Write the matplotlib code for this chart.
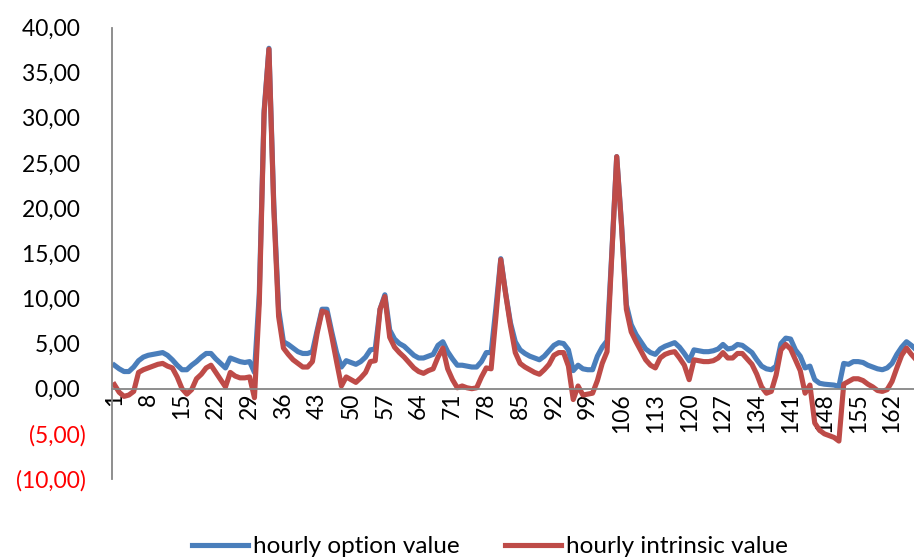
import matplotlib
matplotlib.use("Agg")
import matplotlib.pyplot as plt
from matplotlib.ticker import FixedLocator, FuncFormatter

plt.rcParams['font.family'] = ['Lato', 'DejaVu Sans']

# hourly values for hours 1..167
option_value = [
    2.6, 2.2, 1.9, 1.9, 2.4, 3.1, 3.5, 3.7, 3.8, 3.9,
    4.0, 3.7, 3.2, 2.6, 2.1, 2.1, 2.6, 3.0, 3.5, 3.9,
    3.9, 3.3, 2.8, 2.3, 3.4, 3.2, 3.0, 2.9, 3.0, 1.8,
    10.5, 30.8, 37.7, 20.5, 8.8, 5.2, 4.9, 4.5, 4.1, 3.9,
    3.9, 4.1, 6.5, 8.8, 8.8, 6.3, 4.0, 2.4, 3.1, 2.9,
    2.7, 3.0, 3.5, 4.3, 4.4, 8.8, 10.4, 6.5, 5.5, 5.0,
    4.7, 4.2, 3.7, 3.4, 3.4, 3.6, 3.8, 4.8, 5.2, 4.1,
    3.3, 2.6, 2.6, 2.5, 2.4, 2.4, 3.0, 4.0, 4.0, 9.0,
    14.4, 10.6, 7.3, 5.2, 4.3, 3.9, 3.6, 3.4, 3.2, 3.6,
    4.2, 4.8, 5.1, 5.0, 4.3, 2.0, 2.6, 2.2, 2.1, 2.1,
    3.6, 4.6, 5.3, 15.2, 25.7, 18.2, 9.3, 7.1, 6.0, 5.2,
    4.4, 4.0, 3.8, 4.4, 4.7, 4.9, 5.1, 4.6, 3.9, 3.1,
    4.3, 4.2, 4.1, 4.1, 4.2, 4.4, 4.9, 4.4, 4.5, 4.9,
    4.8, 4.4, 4.0, 3.2, 2.5, 2.2, 2.1, 2.5, 5.0, 5.6,
    5.5, 4.3, 3.6, 2.3, 2.5, 1.0, 0.6, 0.5, 0.45, 0.4,
    0.25, 2.8, 2.7, 3.0, 3.0, 2.9, 2.6, 2.4, 2.2, 2.1,
    2.3, 2.8, 3.8, 4.6, 5.2, 4.8, 4.3,
]
intrinsic_value = [
    0.45, -0.4, -0.85, -0.7, -0.3, 1.8, 2.1, 2.3, 2.5, 2.7,
    2.8, 2.5, 2.3, 1.3, 0.0, -0.6, -0.1, 1.1, 1.6, 2.3,
    2.6, 1.8, 1.0, 0.2, 1.8, 1.4, 1.2, 1.2, 1.3, -1.0,
    9.5, 30.5, 37.6, 20.0, 8.0, 4.5, 3.8, 3.2, 2.8, 2.4,
    2.4, 3.0, 6.2, 8.6, 8.4, 5.8, 3.0, 0.3, 1.3, 1.0,
    0.7, 1.2, 1.8, 3.0, 3.1, 8.8, 10.2, 5.7, 4.6, 4.0,
    3.5, 2.9, 2.3, 1.9, 1.7, 2.0, 2.2, 3.5, 4.5, 2.2,
    1.0, 0.1, 0.3, 0.1, 0.0, 0.1, 1.3, 2.3, 2.2, 8.0,
    14.3, 10.5, 7.0, 4.0, 2.8, 2.4, 2.1, 1.8, 1.6, 2.1,
    2.7, 3.7, 4.0, 4.0, 2.5, -1.2, 0.3, -0.7, -0.6, -0.5,
    0.9, 2.8, 4.1, 15.0, 25.7, 18.0, 8.8, 6.3, 5.2, 4.2,
    3.2, 2.6, 2.3, 3.4, 3.8, 4.0, 4.1, 3.4, 2.6, 1.0,
    3.2, 3.1, 3.0, 3.0, 3.1, 3.4, 4.0, 3.4, 3.4, 3.9,
    3.9, 3.3, 2.7, 1.6, 0.2, -0.5, -0.3, 1.5, 4.3, 4.9,
    4.4, 3.2, 2.0, -0.5, 0.4, -3.8, -4.6, -5.0, -5.2, -5.4,
    -5.8, 0.5, 0.8, 1.1, 1.1, 0.9, 0.5, 0.2, -0.2, -0.3,
    -0.1, 0.8, 2.3, 3.7, 4.5, 3.8, 3.2,
]
hours = list(range(1, len(option_value) + 1))
hour_ticks = list(range(1, 167, 7))
y_ticks = list(range(-10, 41, 5))

blue = '#4A7EBB'
red = '#BE4B48'
axis_grey = '#868686'

fig = plt.figure(figsize=(9.14, 5.58), dpi=100)
ax = fig.add_axes([0.1225, 0.1416, 0.8775, 0.8091])

ax.plot(hours, option_value, color=blue, lw=3.7, solid_joinstyle='round',
        label='hourly option value')
ax.plot(hours, intrinsic_value, color=red, lw=3.7, solid_joinstyle='round',
        label='hourly intrinsic value')

ax.set_xlim(0.5, 166.55)
ax.set_ylim(-10, 40)

# category axis crosses at zero, like the spreadsheet version
ax.spines['top'].set_visible(False)
ax.spines['right'].set_visible(False)
ax.spines['bottom'].set_position(('data', 0))
for s in ('left', 'bottom'):
    ax.spines[s].set_color(axis_grey)
    ax.spines[s].set_linewidth(1.3)

ax.xaxis.set_major_locator(FixedLocator(hour_ticks))
ax.set_xticklabels([str(h) for h in hour_ticks], rotation=90, fontsize=16.5)
ax.tick_params(axis='x', length=0, pad=3)


def fmt(v, pos=None):
    s = f'{abs(v):.2f}'.replace('.', ',')
    return f'({s})' if v < 0 else s + ' '


ax.yaxis.set_major_locator(FixedLocator(y_ticks))
ax.yaxis.set_major_formatter(FuncFormatter(fmt))
ax.tick_params(axis='y', length=0, pad=19, labelsize=16.5)
for lab, v in zip(ax.get_yticklabels(), y_ticks):
    if v < 0:
        lab.set_color('#FF0000')

fig.legend(loc='center', bbox_to_anchor=(0.536, 0.02), ncol=2, frameon=False,
           fontsize=17.5, handlelength=2.3, handletextpad=0.2,
           columnspacing=1.9, borderpad=0)

fig.savefig('out.png', dpi=100)
